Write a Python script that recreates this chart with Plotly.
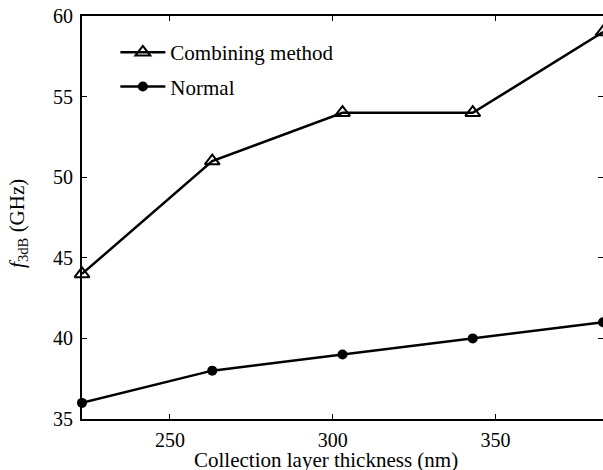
import plotly.graph_objects as go

thickness = [223, 263, 303, 343, 383]
combining = [44, 51, 54, 54, 59]
normal = [36, 38, 39, 40, 41]
x_ticks = [250, 300, 350]
y_ticks = [35, 40, 45, 50, 55, 60]

FONT = "Liberation Serif"

fig = go.Figure()
fig.add_trace(go.Scatter(
    x=thickness, y=combining, mode="lines+markers", name="Combining method",
    legendgroup="a",
    line=dict(color="black", width=2.5),
    marker=dict(symbol="triangle-up-open", size=13, color="black", line=dict(width=2, color="black")),
    cliponaxis=False,
))
fig.add_trace(go.Scatter(
    x=thickness, y=normal, mode="lines+markers", name="Normal",
    legendgroup="b",
    line=dict(color="black", width=2.5),
    marker=dict(symbol="circle", size=10, color="black"),
    cliponaxis=False,
))

axis_common = dict(
    showline=True, linecolor="black", linewidth=1.8, mirror="ticks",
    ticks="inside", ticklen=5, tickwidth=1.2, tickcolor="black",
    showgrid=False, zeroline=False, automargin=False,
    ticklabeloverflow="allow",
    tickfont=dict(family=FONT, size=20, color="black"),
)

fig.update_xaxes(range=[223, 383], tickvals=x_ticks, ticklabelstandoff=2, **axis_common)
fig.update_yaxes(range=[35, 60], tickvals=y_ticks, ticklabelstandoff=3, **axis_common)

fig.add_annotation(
    text="Collection layer thickness (nm)", xref="paper", yref="paper",
    x=0.468, y=0, xanchor="center", yanchor="middle", yshift=-41,
    showarrow=False, font=dict(family=FONT, size=21, color="black"),
)
fig.add_annotation(
    text="<i>f</i><sub>3dB</sub> (GHz)", xref="paper", yref="paper",
    x=0, y=0.484, xanchor="center", yanchor="middle", xshift=-64,
    textangle=-90, showarrow=False, font=dict(family=FONT, size=21, color="black"),
)

fig.update_layout(
    width=603, height=470,
    margin=dict(l=82, r=0, t=16, b=51, autoexpand=False),
    paper_bgcolor="white", plot_bgcolor="white",
    showlegend=True,
    legend=dict(
        x=0.064, y=0.96, xanchor="left", yanchor="top",
        font=dict(family=FONT, size=21, color="black"),
        bgcolor="rgba(0,0,0,0)", itemwidth=45, tracegroupgap=4,
    ),
    font=dict(family=FONT, color="black"),
)

fig.write_html("out.html", config={"displayModeBar": False},
               post_script="document.body.style.margin='0';")
